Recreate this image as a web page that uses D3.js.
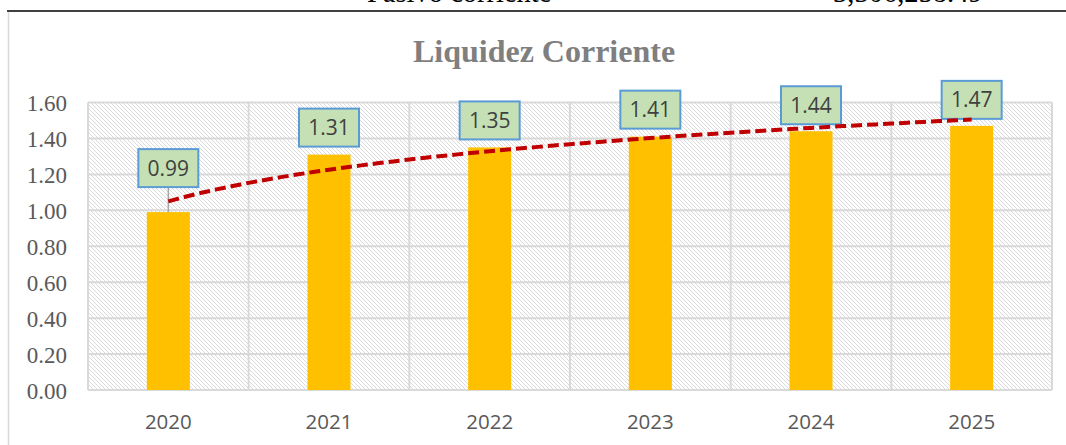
<!DOCTYPE html>
<html>
<head>
<meta charset="utf-8">
<script src="https://cdn.jsdelivr.net/npm/d3@7"></script>
<style>
  html, body { margin: 0; padding: 0; background: #fff; overflow: hidden; }
</style>
</head>
<body>
<div id="chart"></div>
<script>
// Data
const years = ["2020", "2021", "2022", "2023", "2024", "2025"];
const ratios = [0.99, 1.31, 1.35, 1.41, 1.44, 1.47];
const yTicks = [0, 0.2, 0.4, 0.6, 0.8, 1.0, 1.2, 1.4, 1.6];

// Extra lift for each data label above its bar (first one has a leader line)
const labelLift = [25, 8, 8, 8, 7, 7];

const W = 1066, H = 445;
const plot = { left: 88, right: 1052, top: 102.5, bottom: 390 };

const svg = d3.select("#chart")
    .append("svg")
    .attr("width", W)
    .attr("height", H);

// Hatched fill for the plot area
const defs = svg.append("defs");
const pat = defs.append("pattern")
    .attr("id", "hatch")
    .attr("patternUnits", "userSpaceOnUse")
    .attr("width", 4)
    .attr("height", 4);
pat.append("rect").attr("width", 4).attr("height", 4).attr("fill", "#fff");
for (let i = 0; i < 4; i++) {
    pat.append("rect")
        .attr("x", i).attr("y", i)
        .attr("width", 1).attr("height", 1)
        .attr("fill", "#dadada");
}

// Cut-off text of the document table above the chart
svg.append("text")
    .attr("x", 367).attr("y", 2)
    .style("font-family", "'Liberation Serif', 'Times New Roman', serif")
    .style("font-size", "28.5px")
    .attr("fill", "#000")
    .text("Pasivo corriente");
svg.append("text")
    .attr("x", 833).attr("y", 2)
    .style("font-family", "'Liberation Serif', 'Times New Roman', serif")
    .style("font-size", "28.5px")
    .attr("fill", "#000")
    .text("3,306,258.49");

// Table rule and chart frame
svg.append("line")
    .attr("x1", 7).attr("x2", W)
    .attr("y1", 11).attr("y2", 11)
    .attr("stroke", "#000").attr("stroke-width", 1.5);
svg.append("line")
    .attr("x1", 8.5).attr("x2", 8.5)
    .attr("y1", 12).attr("y2", H)
    .attr("stroke", "#d9d9d9").attr("stroke-width", 1.5);

// Title
svg.append("text")
    .attr("x", 544).attr("y", 62)
    .attr("text-anchor", "middle")
    .style("font-family", "'Liberation Serif', 'Times New Roman', serif")
    .style("font-size", "32px")
    .style("font-weight", "bold")
    .attr("fill", "#7f7f7f")
    .text("Liquidez Corriente");

// Scales
const x = d3.scaleBand()
    .domain(years)
    .range([plot.left, plot.right])
    .padding(0);

const y = d3.scaleLinear()
    .domain([0, 1.6])
    .range([plot.bottom, plot.top]);

// Plot area background
svg.append("rect")
    .attr("x", plot.left).attr("y", plot.top)
    .attr("width", plot.right - plot.left)
    .attr("height", plot.bottom - plot.top)
    .attr("fill", "url(#hatch)");

// Horizontal gridlines
svg.append("g")
    .selectAll("line")
    .data(yTicks)
    .enter()
    .append("line")
    .attr("x1", plot.left).attr("x2", plot.right)
    .attr("y1", d => y(d)).attr("y2", d => y(d))
    .attr("stroke", "#d9d9d9").attr("stroke-width", 2);

// Vertical gridlines at category boundaries
const bounds = years.map(d => x(d)).concat([plot.right]);
svg.append("g")
    .selectAll("line")
    .data(bounds)
    .enter()
    .append("line")
    .attr("x1", d => d).attr("x2", d => d)
    .attr("y1", plot.top).attr("y2", plot.bottom)
    .attr("stroke", "#d9d9d9").attr("stroke-width", 2);

// Y axis labels
const yAxis = svg.append("g")
    .attr("transform", "translate(" + (plot.left - 21) + ",0)")
    .attr("font-family", null)
    .call(d3.axisLeft(y).tickValues(yTicks).tickFormat(d3.format(".2f")).tickSize(0).tickPadding(0));
yAxis.attr("font-family", "Liberation Serif").attr("font-size", 23);
yAxis.select(".domain").remove();
yAxis.selectAll("text")
    .attr("dy", "0.35em")
    .style("font-family", "'Liberation Serif', 'Times New Roman', serif")
    .style("font-size", "23px")
    .attr("fill", "#595959");

// X axis labels
const xAxis = svg.append("g")
    .attr("transform", "translate(0," + plot.bottom + ")")
    .call(d3.axisBottom(x).tickSize(0).tickPadding(0));
xAxis.select(".domain").remove();
xAxis.selectAll("text")
    .attr("y", 39)
    .attr("dy", 0)
    .style("font-family", "'Open Sans', 'Noto Sans', sans-serif")
    .style("font-size", "20.5px")
    .attr("fill", "#595959");

// Bars
const barW = x.bandwidth() * 0.268;
svg.append("g")
    .selectAll("rect")
    .data(ratios)
    .enter()
    .append("rect")
    .attr("x", (d, i) => x(years[i]) + (x.bandwidth() - barW) / 2)
    .attr("y", d => y(d))
    .attr("width", barW)
    .attr("height", d => plot.bottom - y(d))
    .attr("fill", "#ffc000");

// Logarithmic trendline (least squares on ln(index))
const lx = ratios.map((d, i) => Math.log(i + 1));
const mx = d3.mean(lx), my = d3.mean(ratios);
const b = d3.sum(lx, (v, i) => (v - mx) * (ratios[i] - my)) / d3.sum(lx, v => (v - mx) * (v - mx));
const a = my - b * mx;
const xIdx = d3.scaleLinear()
    .domain([1, years.length])
    .range([x(years[0]) + x.bandwidth() / 2, x(years[years.length - 1]) + x.bandwidth() / 2]);
const trendPts = d3.range(1, years.length + 0.001, 0.05).map(t => [xIdx(t), y(a + b * Math.log(t))]);

// Data labels
const boxW = 60, boxH = 38;
const labels = svg.append("g");
ratios.forEach((d, i) => {
    const cx = x(years[i]) + x.bandwidth() / 2;
    const bottom = y(d) - labelLift[i];
    if (labelLift[i] > 10) {
        labels.append("line")
            .attr("x1", cx).attr("x2", cx)
            .attr("y1", bottom).attr("y2", y(d))
            .attr("stroke", "#a6a6a6").attr("stroke-width", 1.5);
    }
    labels.append("rect")
        .attr("x", cx - boxW / 2).attr("y", bottom - boxH)
        .attr("width", boxW).attr("height", boxH)
        .attr("fill", "#c5e0b4")
        .attr("stroke", "#5b9bd5").attr("stroke-width", 2);
    labels.append("text")
        .attr("x", cx).attr("y", bottom - boxH / 2)
        .attr("dy", "0.36em")
        .attr("text-anchor", "middle")
        .style("font-family", "'Open Sans', 'Noto Sans', sans-serif")
        .style("font-size", "21px")
        .attr("fill", "#404040")
        .text(d3.format(".2f")(d));
});

svg.append("path")
    .datum(trendPts)
    .attr("d", d3.line())
    .attr("fill", "none")
    .attr("stroke", "#c00000")
    .attr("stroke-width", 4)
    .attr("stroke-dasharray", "11,5");
</script>
</body>
</html>
